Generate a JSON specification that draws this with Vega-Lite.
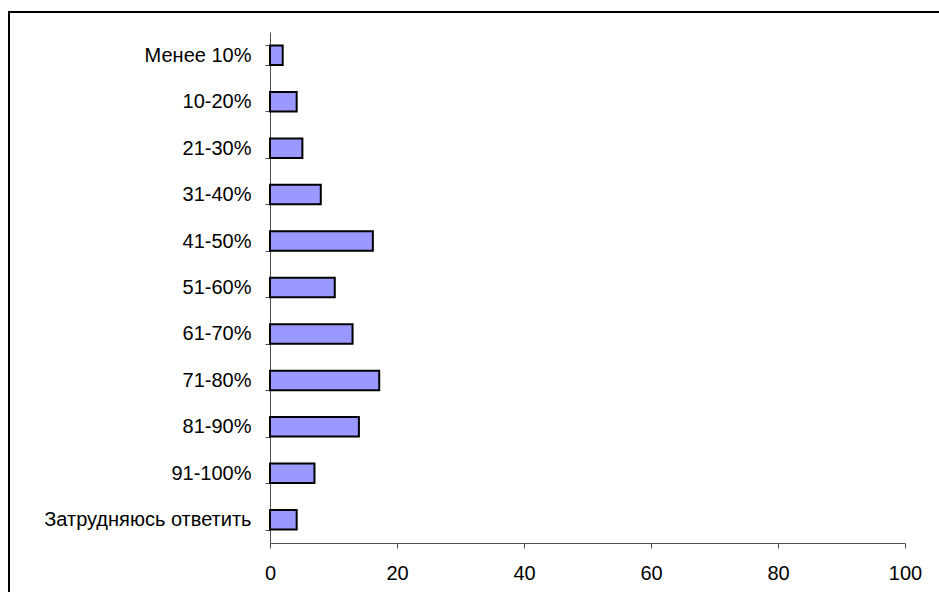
{
  "$schema": "https://vega.github.io/schema/vega-lite/v6.json",
  "autosize": "none",
  "width": 635,
  "height": 511,
  "padding": {"left": 270, "top": 32, "right": 34, "bottom": 49},
  "background": "white",
  "config": {
    "view": {"stroke": null},
    "font": "Liberation Sans",
    "axis": {"domainColor": "#505050", "tickColor": "#505050", "labelColor": "black", "labelFont": "Liberation Sans", "labelFontSize": 20, "grid": false, "title": null}
  },
  "data": {
    "values": [
      {"cat": "Менее 10%", "v": 2},
      {"cat": "10-20%", "v": 4.2},
      {"cat": "21-30%", "v": 5.1},
      {"cat": "31-40%", "v": 8},
      {"cat": "41-50%", "v": 16.2},
      {"cat": "51-60%", "v": 10.2},
      {"cat": "61-70%", "v": 13},
      {"cat": "71-80%", "v": 17.2},
      {"cat": "81-90%", "v": 14},
      {"cat": "91-100%", "v": 7},
      {"cat": "Затрудняюсь ответить", "v": 4.2}
    ]
  },
  "layer": [
    {
      "mark": {"type": "bar", "fill": "#9999FF", "stroke": "black", "strokeWidth": 2, "cornerRadius": 0},
      "encoding": {
        "y": {"field": "cat", "type": "nominal", "sort": null,
          "scale": {"paddingInner": 0.58, "paddingOuter": 0.29},
          "axis": {"tickBand": "extent", "tickSize": 5, "labelPadding": 14, "domainWidth": 1, "labelLimit": 300}},
        "x": {"field": "v", "type": "quantitative",
          "scale": {"domain": [0, 100], "nice": false},
          "axis": {"values": [0, 20, 40, 60, 80, 100], "tickSize": 5, "labelPadding": 15, "labelFlush": false}}
      }
    },
    {
      "mark": {"type": "rect", "fill": null, "stroke": "black", "strokeWidth": 1.5, "clip": false},
      "encoding": {
        "x": {"value": -261},
        "x2": {"value": 700},
        "y": {"value": -20},
        "y2": {"value": 620}
      }
    }
  ]
}
